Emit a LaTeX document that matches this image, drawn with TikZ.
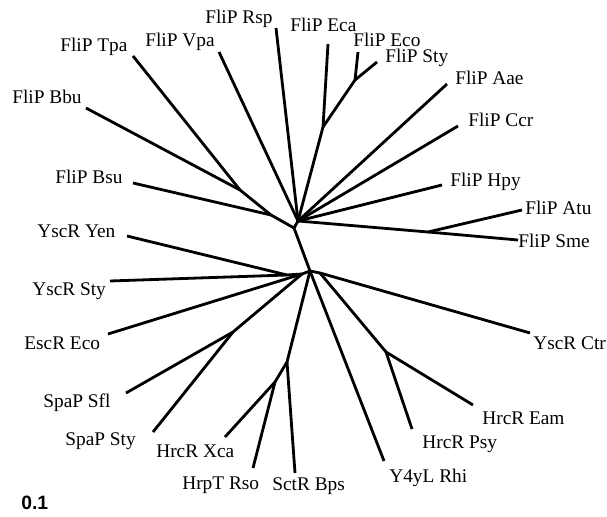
\documentclass[tikz,border=0pt]{standalone}
\usepackage{fontspec}
\setmainfont{Liberation Serif}
\newfontfamily\barfont{Liberation Sans}
\tikzset{
  branch/.style={line width=1.6pt, line join=round},
  taxon/.style={anchor=base west, inner sep=0pt, font=\fontsize{11}{13}\selectfont},
}
\begin{document}
\begin{tikzpicture}[x=0.02cm, y=-0.02cm]
    \useasboundingbox (0,0) rectangle (607,516);

    % inner nodes
    \coordinate (lo) at (310, 271);
    \coordinate (up) at (294, 228);
    \coordinate (hub) at (298, 221);
    \coordinate (bsuj) at (271, 215);
    \coordinate (tpaj) at (240, 190);
    \coordinate (ecaj) at (323, 127);
    \coordinate (ecoj) at (355, 80);
    \coordinate (atuj) at (428, 232);
    \coordinate (yenj) at (287, 275);
    \coordinate (yscj) at (302, 274);
    \coordinate (spaj) at (233, 332);
    \coordinate (xcaj) at (275, 382);
    \coordinate (bpsj) at (287, 362);
    \coordinate (ctrj) at (320, 273);
    \coordinate (hrcj) at (386, 352);

    % tips
    \coordinate (rsp) at (276, 28);
    \coordinate (tpa) at (133, 56);
    \coordinate (vpa) at (219, 52);
    \coordinate (bbu) at (86, 108);
    \coordinate (bsu) at (133, 183);
    \coordinate (eca) at (328, 44);
    \coordinate (eco) at (358, 52);
    \coordinate (sty) at (377, 62);
    \coordinate (aae) at (447, 84);
    \coordinate (ccr) at (458, 126);
    \coordinate (hpy) at (442, 185);
    \coordinate (atu) at (522, 210);
    \coordinate (sme) at (518, 240);
    \coordinate (yen) at (127, 236);
    \coordinate (ysty) at (110, 281);
    \coordinate (esc) at (108, 334);
    \coordinate (sfl) at (126, 393);
    \coordinate (ssty) at (153, 432);
    \coordinate (xca) at (225, 437);
    \coordinate (rso) at (253, 468);
    \coordinate (bps) at (295, 473);
    \coordinate (rhi) at (384, 461);
    \coordinate (psy) at (412, 429);
    \coordinate (eam) at (473, 405);
    \coordinate (ctr) at (530, 333);

    % FliP part
    \draw [branch] (lo) -- (up) -- (hub);
    \draw [branch] (up) -- (bsuj) -- (tpaj) -- (tpa);
    \draw [branch] (tpaj) -- (bbu);
    \draw [branch] (bsuj) -- (bsu);
    \draw [branch] (hub) -- (vpa);
    \draw [branch] (hub) -- (rsp);
    \draw [branch] (hub) -- (ecaj) -- (eca);
    \draw [branch] (ecaj) -- (ecoj) -- (eco);
    \draw [branch] (ecoj) -- (sty);
    \draw [branch] (hub) -- (aae);
    \draw [branch] (hub) -- (ccr);
    \draw [branch] (hub) -- (hpy);
    \draw [branch] (hub) -- (atuj) -- (atu);
    \draw [branch] (atuj) -- (sme);

    % YscR / SpaP / HrcR part
    \draw [branch] (lo) -- (yscj) -- (yenj) -- (ysty);
    \draw [branch] (yenj) -- (yen);
    \draw [branch] (yscj) -- (esc);
    \draw [branch] (yscj) -- (spaj) -- (sfl);
    \draw [branch] (spaj) -- (ssty);
    \draw [branch] (lo) -- (bpsj) -- (xcaj) -- (xca);
    \draw [branch] (xcaj) -- (rso);
    \draw [branch] (bpsj) -- (bps);
    \draw [branch] (lo) -- (rhi);
    \draw [branch] (lo) -- (ctrj) -- (ctr);
    \draw [branch] (ctrj) -- (hrcj) -- (eam);
    \draw [branch] (hrcj) -- (psy);

    \node [taxon] (rsp-l) at (205, 24) {FliP Rsp};
    \node [taxon] (tpa-l) at (60, 52) {FliP Tpa};
    \node [taxon] (vpa-l) at (145, 47) {FliP Vpa};
    \node [taxon] (bbu-l) at (12, 104) {FliP Bbu};
    \node [taxon] (bsu-l) at (55, 184) {FliP Bsu};
    \node [taxon] (eca-l) at (290, 32) {FliP Eca};
    \node [taxon] (eco-l) at (353, 47) {FliP Eco};
    \node [taxon] (sty-l) at (385, 63) {FliP Sty};
    \node [taxon] (aae-l) at (455, 85) {FliP Aae};
    \node [taxon] (ccr-l) at (468, 127) {FliP Ccr};
    \node [taxon] (hpy-l) at (450, 187) {FliP Hpy};
    \node [taxon] (atu-l) at (525, 215) {FliP Atu};
    \node [taxon] (sme-l) at (518, 248) {FliP Sme};
    \node [taxon] (yen-l) at (37, 238) {YscR Yen};
    \node [taxon] (ysty-l) at (32, 296) {YscR Sty};
    \node [taxon] (esc-l) at (24, 349) {EscR Eco};
    \node [taxon] (sfl-l) at (43, 407) {SpaP Sfl};
    \node [taxon] (ssty-l) at (65, 445) {SpaP Sty};
    \node [taxon] (xca-l) at (156, 457) {HrcR Xca};
    \node [taxon] (rso-l) at (182, 489) {HrpT Rso};
    \node [taxon] (bps-l) at (272, 490) {SctR Bps};
    \node [taxon] (rhi-l) at (389, 482) {Y4yL Rhi};
    \node [taxon] (psy-l) at (422, 448) {HrcR Psy};
    \node [taxon] (eam-l) at (482, 424) {HrcR Eam};
    \node [taxon] (ctr-l) at (533, 349) {YscR Ctr};

    \node [taxon, font=\barfont\bfseries\fontsize{11}{13}\selectfont] (scale) at (21, 509) {0.1};
\end{tikzpicture}
\end{document}
